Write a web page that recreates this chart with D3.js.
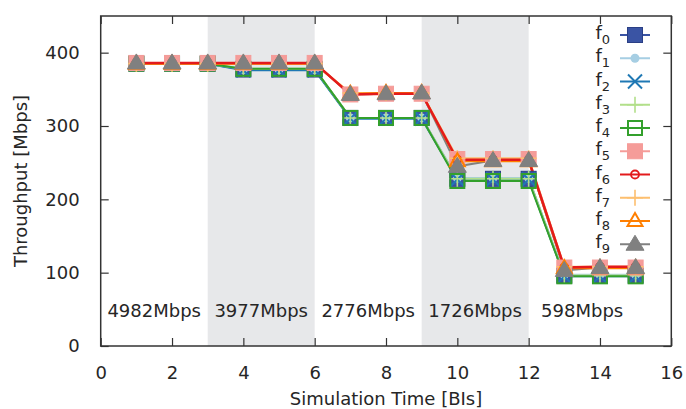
<!DOCTYPE html>
<html><head><meta charset="utf-8">
<script src="https://cdn.jsdelivr.net/npm/d3@7"></script>
<style>
body{margin:0;background:#fff;}
text{font-family:"DejaVu Sans",sans-serif;fill:#262626;}
</style></head>
<body><svg id="c" width="686" height="409"></svg>
<script>
const times = [1,2,3,4,5,6,7,8,9,10,11,12,13,14,15];
const seriesNames = ["0","1","2","3","4","5","6","7","8","9"];
const f0 = [385,385,385,377,377,377,311,311,311,228,228,228,96,96,96];
const f1 = [385,385,385,377,377,377,311,311,311,229,229,229,97,97,97];
const f2 = [385,385,385,376,376,376,310,310,310,227,227,227,95,95,95];
const f3 = [385,385,385,378,378,378,311,311,311,228,228,228,96,96,96];
const f4 = [385,385,385,378,378,378,311,311,311,225,225,225,95,95,95];
const f5 = [386,386,386,386,386,386,343,344,344,255,255,255,107,107,107];
const f6 = [386,386,386,386,386,386,343,344,344,254,254,254,107,108,108];
const f7 = [385,385,385,385,385,385,345,345,345,256,256,256,108,108,108];
const f8 = [385,385,385,385,385,385,344,345,345,252,252,252,106,106,106];
const f9 = [386,386,386,386,386,386,343,344,345,245,253,253,103,107,107];
const shadedRanges = [[3,6],[9,12]];
const capacityLabels = ["4982Mbps","3977Mbps","2776Mbps","1726Mbps","598Mbps"];
const capacityLabelX = [1.5,4.5,7.5,10.5,13.5];
const capacityLabelY = 40;
const xTicks = [0,2,4,6,8,10,12,14,16];
const yTicks = [0,100,200,300,400];

const allSeries = [f0,f1,f2,f3,f4,f5,f6,f7,f8,f9];
const colors = ["#3a54a4","#a6cee3","#1f78b4","#b2df8a","#33a02c","#f59c99","#e31a1c","#fdbf6f","#ff7f00","#808080"];
const markers = ["sqfill","circfill","x","plus","sqopen","sqfill","circopen","plus","triopen","trifill"];
const lineOrder = [9,0,1,2,3,4,5,7,8,6];

const svg = d3.select("#c");
const L=100.7, R=671.3, T=16, B=346;
const x = d3.scaleLinear().domain([0,16]).range([L,R]);
const y = d3.scaleLinear().domain([0,450]).range([B,T]);

// shading
svg.selectAll("rect.shade").data(shadedRanges).enter().append("rect")
  .attr("x",d=>x(d[0])).attr("width",d=>x(d[1])-x(d[0]))
  .attr("y",T).attr("height",B-T).attr("fill","#e7e8ea");

// capacity labels
svg.selectAll("text.cap").data(capacityLabels).enter().append("text")
  .attr("x",(d,i)=>x(capacityLabelX[i])).attr("y",y(capacityLabelY))
  .attr("text-anchor","middle").attr("font-size",18).text(d=>d);

// axes
const tl = 8;
const axB = d3.axisBottom(x).tickValues(xTicks).tickSize(-tl).tickPadding(tl+12).tickFormat(d3.format("d"));
const axT = d3.axisTop(x).tickValues(xTicks).tickSize(-tl).tickFormat("");
const axL = d3.axisLeft(y).tickValues(yTicks).tickSize(-tl).tickPadding(tl+13).tickFormat(d3.format("d"));
const axR = d3.axisRight(y).tickValues(yTicks).tickSize(-tl).tickFormat("");
function style(g){
  g.select(".domain").remove();
  g.selectAll(".tick line").attr("stroke","#333").attr("stroke-width",1.2);
  g.selectAll(".tick text").attr("font-size",18).attr("font-family","DejaVu Sans").attr("fill","#262626");
}
svg.append("g").attr("transform",`translate(0,${B})`).call(axB).call(style);
svg.append("g").attr("transform",`translate(0,${T})`).call(axT).call(style);
svg.append("g").attr("transform",`translate(${L},0)`).call(axL).call(style);
svg.append("g").attr("transform",`translate(${R},0)`).call(axR).call(style);
svg.append("rect").attr("x",L).attr("y",T).attr("width",R-L).attr("height",B-T)
  .attr("fill","none").attr("stroke","#333").attr("stroke-width",1.5);

// titles
svg.append("text").attr("x",(L+R)/2).attr("y",405).attr("text-anchor","middle")
  .attr("font-size",18).text("Simulation Time [BIs]");
svg.append("text").attr("transform",`translate(27,${(T+B)/2}) rotate(-90)`)
  .attr("text-anchor","middle").attr("font-size",18).text("Throughput [Mbps]");

function drawMarker(g, type, color){
  const s=7.5;
  if(type==="sqfill"){
    g.append("rect").attr("x",-s).attr("y",-s).attr("width",2*s).attr("height",2*s)
      .attr("fill",color).attr("stroke",color==="#3a54a4"?"#2a3f85":color).attr("stroke-width",1);
  } else if(type==="sqopen"){
    g.append("rect").attr("x",-s+0.5).attr("y",-s+0.5).attr("width",2*s-1).attr("height",2*s-1)
      .attr("fill","none").attr("stroke",color).attr("stroke-width",2);
  } else if(type==="circfill"){
    g.append("circle").attr("r",4.5).attr("fill",color);
  } else if(type==="circopen"){
    g.append("circle").attr("r",4).attr("fill","none").attr("stroke",color).attr("stroke-width",1.8);
  } else if(type==="x"){
    g.append("path").attr("d","M-7,-7L7,7M-7,7L7,-7").attr("stroke",color).attr("stroke-width",2).attr("fill","none");
  } else if(type==="plus"){
    g.append("path").attr("d","M-8,0L8,0M0,-8L0,8").attr("stroke",color).attr("stroke-width",1.6).attr("fill","none");
  } else if(type==="triopen"){
    g.append("path").attr("d","M0,-8L7.5,5L-7.5,5Z").attr("stroke",color).attr("stroke-width",2).attr("fill","none");
  } else if(type==="trifill"){
    g.append("path").attr("d","M0,-9L9,6L-9,6Z").attr("fill",color).attr("stroke",color).attr("stroke-width",1);
  }
}

const line = d3.line().x((d,i)=>x(times[i])).y(d=>y(d));
const linesG = svg.append("g");
lineOrder.forEach(k=>{
  linesG.append("path").datum(allSeries[k]).attr("d",line).attr("fill","none")
    .attr("stroke",colors[k]).attr("stroke-width",k===6?2.5:2);
});
const marksG = svg.append("g");
allSeries.forEach((vals,k)=>{
  vals.forEach((v,i)=>{
    const mg = marksG.append("g").attr("transform",`translate(${x(times[i])},${y(v)})`);
    drawMarker(mg, markers[k], colors[k]);
  });
});

// legend
const lx0=620, lx1=650, ly0=35, ldy=23.25;
seriesNames.forEach((n,k)=>{
  const yy = ly0+k*ldy;
  const t = svg.append("text").attr("x",610).attr("y",yy+4).attr("text-anchor","end").attr("font-size",18);
  t.append("tspan").text("f");
  t.append("tspan").attr("font-size",13).attr("dy",5).text(n);
  svg.append("line").attr("x1",lx0).attr("x2",lx1).attr("y1",yy).attr("y2",yy)
    .attr("stroke",colors[k]).attr("stroke-width",2);
  const mg = svg.append("g").attr("transform",`translate(${(lx0+lx1)/2},${yy})`);
  drawMarker(mg, markers[k], colors[k]);
});
</script></body></html>
